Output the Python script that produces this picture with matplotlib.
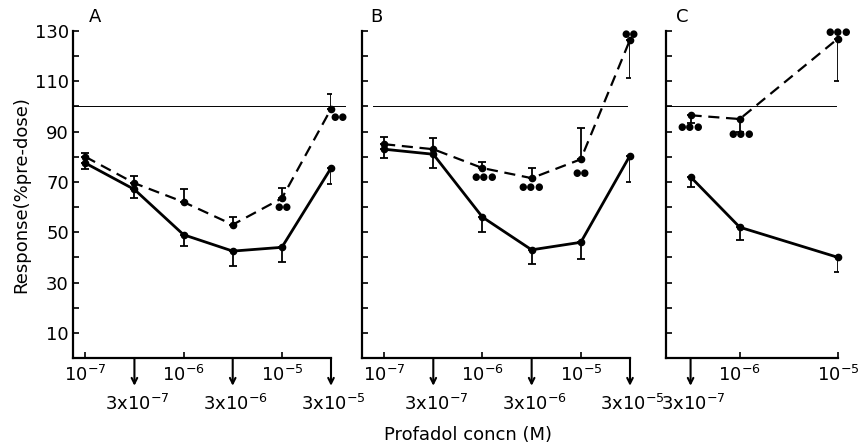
import numpy as np
import matplotlib
matplotlib.use("Agg")
import matplotlib.pyplot as plt
import matplotlib.transforms as mtransforms

plt.rcParams['font.family'] = ['DejaVu Sans']
plt.rcParams['font.size'] = 13

# concentration categories (equally spaced on the axis)
conc_labels = ['10$^{-7}$', '3x10$^{-7}$', '10$^{-6}$', '3x10$^{-6}$', '10$^{-5}$', '3x10$^{-5}$']

# panel A
a_x = [0, 1, 2, 3, 4, 5]
a_solid = [77.5, 67, 49, 42.5, 44, 75.5]
a_solid_lo = [2.5, 3.5, 4.5, 6, 6, 6.5]
a_dash = [80, 69.5, 62, 53, 63.5, 99]
a_dash_up = [1.5, 3, 5, 3, 4, 6]
a_sig = {4: '●●', 5: '●●'}

# panel B
b_x = [0, 1, 2, 3, 4, 5]
b_solid = [83, 81, 56, 43, 46, 80.5]
b_solid_lo = [3.5, 5.5, 6, 5.5, 6.5, 10.5]
b_dash = [85, 83, 75.5, 71.5, 79, 126.5]
b_dash_up = [3, 4.5, 2.5, 4, 12.5, 0]
b_dash_lo = [0, 0, 0, 0, 0, 15]
b_sig = {2: '●●●', 3: '●●●', 4: '●●', 5: '●●'}

# panel C (no 3x10^-6 or 3x10^-5 points)
c_x = [1, 2, 4]
c_solid = [72, 52, 40]
c_solid_lo = [4, 5, 6]
c_dash = [96.5, 95, 127]
c_dash_lo = [3, 5, 17]
c_sig = {1: '●●●', 2: '●●●', 4: '●●●'}

H = 448.0
W = 866.0
bot, top = 358, 31
fig = plt.figure(figsize=(8.66, 4.48), dpi=100)
axA = fig.add_axes([73 / W, 1 - bot / H, (331 - 73) / W, (bot - top) / H])
axB = fig.add_axes([362 / W, 1 - bot / H, (630 - 362) / W, (bot - top) / H])
axC = fig.add_axes([666 / W, 1 - bot / H, (838 - 666) / W, (bot - top) / H])


def errs(ax, x, y, lo, up, capsize=3):
    x = np.asarray(x, float)
    y = np.asarray(y, float)
    lo = np.asarray(lo, float)
    up = np.asarray(up, float)
    m = (lo > 0) | (up > 0)
    ax.errorbar(x[m], y[m], yerr=[lo[m], up[m]], fmt='none', ecolor='black',
                elinewidth=1.3, capsize=capsize, capthick=1.3, zorder=2)


def setup(ax, xlim, major, arrows, labels_on, hl):
    ax.set_xlim(*xlim)
    ax.set_ylim(0, 130)
    for s in ['top', 'right']:
        ax.spines[s].set_visible(False)
    for s in ['left', 'bottom']:
        ax.spines[s].set_linewidth(1.6)
    ax.set_yticks(range(10, 131, 20))
    ax.set_yticks(range(20, 121, 20), minor=True)
    if not labels_on:
        ax.set_yticklabels([])
    ax.tick_params(axis='y', which='both', direction='in', length=4, width=1.2, pad=3)
    ax.set_xticks(major)
    ax.set_xticklabels([conc_labels[i] for i in major])
    ax.tick_params(axis='x', direction='in', length=4, width=1.2, pad=5)
    ax.axhline(100, xmin=hl[0], xmax=hl[1], color='black', lw=0.7, clip_on=False)
    tr_axis = ax.get_xaxis_transform()
    tr_down = mtransforms.offset_copy(tr_axis, fig=fig, x=0, y=-20, units='points')
    for i in arrows:
        ax.annotate('', xy=(i, 0), xycoords=tr_down, xytext=(i, 0), textcoords=tr_axis,
                    arrowprops=dict(arrowstyle='->', lw=1.5, color='black',
                                    mutation_scale=10, shrinkA=0, shrinkB=0),
                    annotation_clip=False)
        ax.annotate(conc_labels[i], xy=(i, 0), xycoords=tr_axis, xytext=(2, -33),
                    textcoords='offset points', ha='center', va='center',
                    annotation_clip=False)


def sig(ax, x, y, marks, offs):
    for xi, yi in zip(x, y):
        if xi in marks:
            dx, dy = offs.get(xi, (0, -7))
            ax.annotate(marks[xi], xy=(xi, yi), xytext=(dx, dy), textcoords='offset points',
                        ha='center', va='center', fontsize=7, annotation_clip=False)


line_kw = dict(color='black', marker='o', markersize=4.5, zorder=3, clip_on=False)

# A
axA.plot(a_x, a_solid, lw=2.0, **line_kw)
errs(axA, a_x, a_solid, a_solid_lo, [0] * 6)
axA.plot(a_x, a_dash, lw=1.6, ls=(0, (5, 3)), **line_kw)
errs(axA, a_x, a_dash, [0] * 6, a_dash_up)
setup(axA, (-0.25, 5.0), [0, 2, 4], [1, 3, 5], True, (0, 1.054))
sig(axA, a_x, a_dash, a_sig, {4: (1, -6.5), 5: (5.5, -6)})
axA.set_ylabel('Response(%pre-dose)', fontsize=13, labelpad=3)
axA.text(0.06, 1.015, 'A', transform=axA.transAxes, fontsize=13, va='bottom')

# B
axB.plot(b_x, b_solid, lw=2.0, **line_kw)
errs(axB, b_x, b_solid, b_solid_lo, [0] * 6)
axB.plot(b_x, b_dash, lw=1.6, ls=(0, (5, 3)), **line_kw)
errs(axB, b_x, b_dash, b_dash_lo, b_dash_up)
setup(axB, (-0.45, 5.0), [0, 2, 4], [1, 3, 5], False, (0.04, 0.99))
sig(axB, b_x, b_dash, b_sig, {2: (1, -6.5), 3: (0, -6.5), 4: (0, -10), 5: (0, 4.5)})
axB.text(0.03, 1.015, 'B', transform=axB.transAxes, fontsize=13, va='bottom')

# C
axC.plot(c_x, c_solid, lw=2.0, **line_kw)
errs(axC, c_x, c_solid, c_solid_lo, [0] * 3)
axC.plot(c_x, c_dash, lw=1.6, ls=(0, (5, 3)), **line_kw)
errs(axC, c_x, c_dash, c_dash_lo, [0] * 3)
setup(axC, (0.5, 4.0), [2, 4], [1], False, (0, 0.99))
sig(axC, c_x, c_dash, c_sig, {1: (0, -8.5), 2: (1, -11), 4: (0, 4.5)})
axC.text(0.06, 1.015, 'C', transform=axC.transAxes, fontsize=13, va='bottom')

fig.text(468 / W, 1 - 435 / H, 'Profadol concn (M)', ha='center', va='center', fontsize=13)

fig.savefig('out.png', dpi=100)
